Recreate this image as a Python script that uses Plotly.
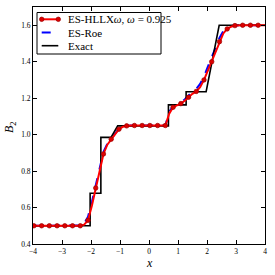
import plotly.graph_objects as go

# numerical solution grid (line), markers on every other point
x_num = [-4.0, -3.97, -3.837, -3.703, -3.57, -3.437, -3.303, -3.17, -3.037, -2.903, -2.77,
         -2.637, -2.503, -2.37, -2.237, -2.103, -1.97, -1.837, -1.703, -1.57, -1.437,
         -1.303, -1.17, -1.037, -0.903, -0.77, -0.637, -0.503, -0.37, -0.237, -0.103,
         0.03, 0.163, 0.297, 0.43, 0.563, 0.697, 0.83, 0.963, 1.097, 1.23,
         1.363, 1.497, 1.63, 1.763, 1.897, 2.03, 2.163, 2.297, 2.43, 2.563,
         2.697, 2.83, 2.963, 3.097, 3.23, 3.363, 3.497, 3.63, 3.763, 3.897, 4.0]
b_hllx = [0.5, 0.5, 0.5, 0.5, 0.5, 0.5, 0.5, 0.5, 0.5, 0.5, 0.5,
          0.5, 0.5, 0.5, 0.506, 0.53, 0.61, 0.707, 0.80, 0.894, 0.945,
          0.975, 1.005, 1.03, 1.043, 1.048, 1.05, 1.05, 1.05, 1.05, 1.05,
          1.05, 1.05, 1.05, 1.05, 1.05, 1.115, 1.15, 1.16, 1.17, 1.186,
          1.205, 1.224, 1.237, 1.26, 1.30, 1.35, 1.40, 1.455, 1.51, 1.555,
          1.58, 1.592, 1.598, 1.6, 1.6, 1.6, 1.6, 1.6, 1.6, 1.6, 1.6]
b_roe = [0.5, 0.5, 0.5, 0.5, 0.5, 0.5, 0.5, 0.5, 0.5, 0.5, 0.5,
         0.5, 0.5, 0.502, 0.512, 0.55, 0.63, 0.72, 0.815, 0.905, 0.95,
         0.98, 1.01, 1.033, 1.045, 1.049, 1.05, 1.05, 1.05, 1.05, 1.05,
         1.05, 1.05, 1.05, 1.05, 1.05, 1.125, 1.155, 1.165, 1.176, 1.193,
         1.215, 1.235, 1.25, 1.278, 1.32, 1.37, 1.42, 1.475, 1.53, 1.568,
         1.588, 1.596, 1.6, 1.6, 1.6, 1.6, 1.6, 1.6, 1.6, 1.6, 1.6]

x_exact = [-4.0, -2.03, -2.03, -1.66, -1.66, -1.31, -1.08, 0.67, 0.67, 1.28, 1.28, 1.97, 2.42, 4.0]
b_exact = [0.5, 0.5, 0.678, 0.678, 0.985, 0.985, 1.048, 1.048, 1.163, 1.163, 1.235, 1.235, 1.6, 1.6]

x_ticks = [-4, -3, -2, -1, 0, 1, 2, 3, 4]
y_ticks = [0.4, 0.6, 0.8, 1.0, 1.2, 1.4, 1.6]

series_names = ["ES-HLLX<i>ω</i>, <i>ω</i> = 0.925", "ES-Roe", "Exact"]

x_mark = x_num[1:61:2]
b_mark = b_hllx[1:61:2]

SERIF = "Liberation Serif, DejaVu Serif, serif"
RED = "#ff0000"
MRED = "#dd0000"
MEDGE = "#990000"

# plot area in pixels
L, R, T, B = 33, 265, 7, 244
W, H = 275, 275


def px(xp):
    return (xp - L) / (R - L)


def py(yp):
    return (B - yp) / (B - T)


fig = go.Figure()
fig.add_trace(go.Scatter(x=x_num, y=b_roe, mode="lines",
                         line=dict(color="#0000ff", width=2, dash="dash"), name=series_names[1]))
fig.add_trace(go.Scatter(x=x_exact, y=b_exact, mode="lines",
                         line=dict(color="black", width=1.6), name=series_names[2]))
fig.add_trace(go.Scatter(x=x_num, y=b_hllx, mode="lines",
                         line=dict(color=RED, width=2), name=series_names[0]))
fig.add_trace(go.Scatter(x=x_mark, y=b_mark, mode="markers",
                         marker=dict(color=MRED, size=4.5, line=dict(color=MEDGE, width=0.7)),
                         name=series_names[0]))

axis_common = dict(showgrid=False, zeroline=False, showline=True, linecolor="black", linewidth=1,
                   mirror="ticks", ticks="inside", ticklen=4, tickcolor="black",
                   tickfont=dict(family=SERIF, size=7.5, color="black"))
fig.update_xaxes(range=[-4, 4], tickvals=x_ticks, **axis_common)
fig.update_yaxes(range=[0.4, 1.7], tickvals=y_ticks, tickformat=".1f", **axis_common)

# manual legend (matplotlib-like, compact)
shapes = []
annotations = []
shapes.append(dict(type="rect", xref="paper", yref="paper", x0=px(37), x1=px(161), y0=py(54), y1=py(12.5),
                   line=dict(color="black", width=1), fillcolor="white", layer="above"))
rows = [19.3, 32.5, 45.7]
lx0, lx1 = 41.7, 58.3
shapes.append(dict(type="line", xref="paper", yref="paper", x0=px(lx0), x1=px(lx1), y0=py(rows[0]), y1=py(rows[0]),
                   line=dict(color=RED, width=2), layer="above"))
for mx in (lx0, lx1):
    shapes.append(dict(type="circle", xref="paper", yref="paper", xsizemode="pixel", ysizemode="pixel",
                       xanchor=px(mx), yanchor=py(rows[0]), x0=-2.25, x1=2.25, y0=-2.25, y1=2.25,
                       fillcolor=MRED, line=dict(color=MEDGE, width=0.7), layer="above"))
shapes.append(dict(type="line", xref="paper", yref="paper", x0=px(lx0), x1=px(lx1 - 1.5), y0=py(rows[1]), y1=py(rows[1]),
                   line=dict(color="#0000ff", width=2, dash="dash"), layer="above"))
shapes.append(dict(type="line", xref="paper", yref="paper", x0=px(lx0), x1=px(lx1), y0=py(rows[2]), y1=py(rows[2]),
                   line=dict(color="black", width=1.6), layer="above"))
for name, ry in zip(series_names, rows):
    annotations.append(dict(text=name, xref="paper", yref="paper", x=px(66), y=py(ry), xanchor="left",
                            yanchor="middle", showarrow=False, font=dict(family=SERIF, size=11, color="black")))

# axis titles
annotations.append(dict(text="<i>x</i>", xref="paper", yref="paper", x=px(149), y=py(263), xanchor="center",
                        yanchor="middle", showarrow=False, font=dict(family=SERIF, size=12, color="black")))
annotations.append(dict(text="<i>B</i><sub>2</sub>", xref="paper", yref="paper", x=px(10), y=py(127),
                        xanchor="center", yanchor="middle", textangle=-90, showarrow=False,
                        font=dict(family=SERIF, size=12, color="black")))

fig.update_layout(
    width=W, height=H,
    margin=dict(l=L, r=W - R, t=T, b=H - B),
    plot_bgcolor="white", paper_bgcolor="white",
    showlegend=False,
    shapes=shapes,
    annotations=annotations,
)
fig.write_html("out.html", config={"displayModeBar": False},
               post_script="document.body.style.margin='0';document.body.style.overflow='hidden';")
